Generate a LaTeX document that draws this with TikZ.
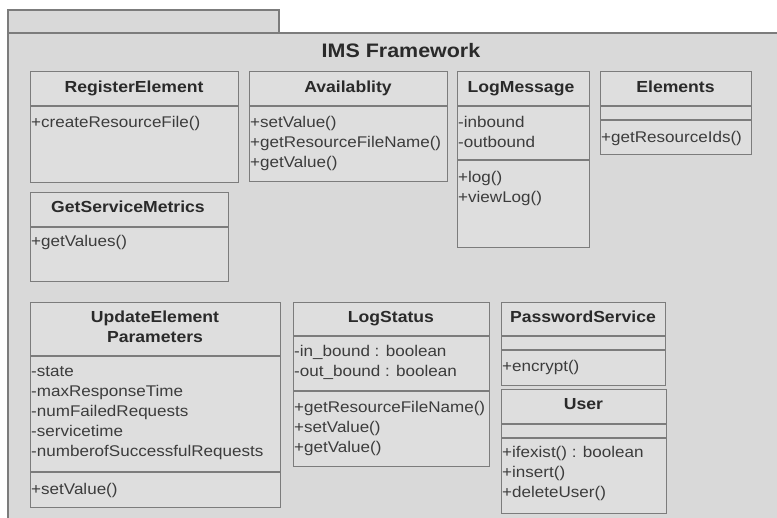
\documentclass[tikz,border=0pt]{standalone}
\usepackage{fontspec}
\setmainfont[FakeStretch=1.1]{Liberation Sans}
\definecolor{pkgfill}{HTML}{D9D9D9}
\definecolor{clsfill}{HTML}{DEDEDE}
\definecolor{edge}{HTML}{7C7C7C}
\definecolor{hdrtext}{HTML}{2A2A2A}
\definecolor{bodytext}{HTML}{3C3C3C}
\tikzset{
  pkg/.style={draw=edge, fill=pkgfill, line width=1.3pt},
  cls/.style={draw=edge, fill=clsfill, line width=1.3pt, rectangle, anchor=north west, inner sep=0pt},
  sepline/.style={draw=edge, line width=1.3pt},
  hdr/.style={anchor=base, inner sep=0pt, text=hdrtext, font=\bfseries\fontsize{16}{20}\selectfont},
  txt/.style={anchor=base west, inner sep=0pt, text=bodytext, font=\fontsize{15.5}{20}\selectfont},
  ttl/.style={anchor=base, inner sep=0pt, text=hdrtext, font=\bfseries\fontsize{19.5}{22}\selectfont}
}
\newcommand\clslines[4]{%
  \foreach \t [count=\i] in {#4} \node[txt] (#1-\i) at (#2,{#3+20*(\i-1)}) {\t};}
\begin{document}
\begin{tikzpicture}[x=1pt,y=-1pt]
\fill[white] (0,0) rectangle (777,518);
\useasboundingbox (0,0) rectangle (777,518);
\clip (0,0) rectangle (777,518);
% package
\draw[pkg] (8,10) rectangle (279,33);
\draw[pkg] (8,530) -- (8,33) -- (790,33) -- (790,530) -- cycle;
\node[ttl] (title) at (401,58) {IMS Framework};

% RegisterElement
\node[cls, minimum width=208pt, minimum height=111pt] (re) at (30,71) {};
\draw[sepline] (30,106) -- (238,106);
\node[hdr] (re-h) at (134,93) {RegisterElement};
\clslines{re}{31}{128}{+createResourceFile()}

% Availablity
\node[cls, minimum width=198pt, minimum height=110pt] (av) at (249,71) {};
\draw[sepline] (249,106) -- (447,106);
\node[hdr] (av-h) at (348,93) {Availablity};
\clslines{av}{250}{128}{+setValue(),+getResourceFileName(),+getValue()}

% LogMessage
\node[cls, minimum width=132pt, minimum height=176pt] (lm) at (457,71) {};
\draw[sepline] (457,106) -- (589,106);
\draw[sepline] (457,160) -- (589,160);
\node[hdr] (lm-h) at (521,93) {LogMessage};
\clslines{lma}{458}{128}{-inbound,-outbound}
\clslines{lmm}{458}{183}{+log(),+viewLog()}

% Elements
\node[cls, minimum width=151pt, minimum height=83pt] (el) at (600,71) {};
\draw[sepline] (600,106) -- (751,106);
\draw[sepline] (600,120) -- (751,120);
\node[hdr] (el-h) at (675.5,93) {Elements};
\clslines{el}{601}{143}{+getResourceIds()}

% GetServiceMetrics
\node[cls, minimum width=198pt, minimum height=89pt] (gs) at (30,192) {};
\draw[sepline] (30,227) -- (228,227);
\node[hdr] (gs-h) at (128,213) {GetServiceMetrics};
\clslines{gs}{31}{247}{+getValues()}

% UpdateElementParameters
\node[cls, minimum width=250pt, minimum height=205pt] (up) at (30,302) {};
\draw[sepline] (30,356) -- (280,356);
\draw[sepline] (30,472) -- (280,472);
\node[hdr] (up-h1) at (155,323) {UpdateElement};
\node[hdr] (up-h2) at (155,343) {Parameters};
\clslines{upa}{31}{377}{-state,-maxResponseTime,-numFailedRequests,-servicetime,-numberofSuccessfulRequests}
\clslines{upm}{31}{495}{+setValue()}

% LogStatus
\node[cls, minimum width=196pt, minimum height=164pt] (ls) at (293,302) {};
\draw[sepline] (293,336) -- (489,336);
\draw[sepline] (293,391) -- (489,391);
\node[hdr] (ls-h) at (391,323) {LogStatus};
\clslines{lsa}{294}{357}{-in\_bound : boolean,-out\_bound : boolean}
\clslines{lsm}{294}{413}{+getResourceFileName(),+setValue(),+getValue()}

% PasswordService
\node[cls, minimum width=164pt, minimum height=83pt] (ps) at (501,302) {};
\draw[sepline] (501,336) -- (665,336);
\draw[sepline] (501,350) -- (665,350);
\node[hdr] (ps-h) at (583,323) {PasswordService};
\clslines{ps}{502}{372}{+encrypt()}

% User
\node[cls, minimum width=165pt, minimum height=124pt] (us) at (501,389) {};
\draw[sepline] (501,424) -- (666,424);
\draw[sepline] (501,438) -- (666,438);
\node[hdr] (us-h) at (583.5,410) {User};
\clslines{us}{502}{458}{+ifexist() : boolean,+insert(),+deleteUser()}
\end{tikzpicture}
\end{document}
